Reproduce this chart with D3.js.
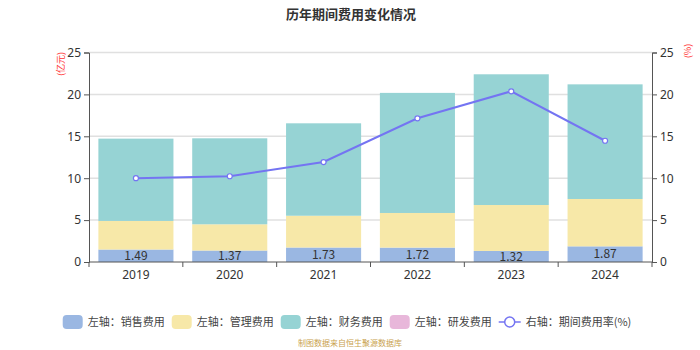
<!DOCTYPE html>
<html>
<head>
<meta charset="utf-8">
<script src="https://cdn.jsdelivr.net/npm/d3@7/dist/d3.min.js"></script>
<style>
  body { margin: 0; background: #fff; }
  svg { font-family: "Noto Sans CJK SC", "Noto Sans", sans-serif; }
</style>
</head>
<body>
<script>
var years = ['2019', '2020', '2021', '2022', '2023', '2024'];
var sales = [1.49, 1.37, 1.73, 1.72, 1.32, 1.87];
var admin = [3.41, 3.13, 3.79, 4.13, 5.48, 5.65];
var finance = [9.82, 10.26, 11.03, 14.33, 15.60, 13.68];
var research = [0, 0, 0, 0, 0, 0];
var rate = [10.0, 10.23, 11.93, 17.15, 20.37, 14.47];
var yTicks = [0, 5, 10, 15, 20, 25];
var legendNames = ['左轴：销售费用', '左轴：管理费用', '左轴：财务费用', '左轴：研发费用', '右轴：期间费用率(%)'];

var W = 700, H = 350,
    plotLeft = 89, plotRight = 652, plotTop = 52.5, plotBottom = 262,
    colors = ['#9ab7e2', '#f7e8a8', '#96d3d4', '#e8b7da'],
    lineColor = '#7474f2';

var svg = d3.select('body').append('svg')
    .attr('width', W)
    .attr('height', H);

var xScale = d3.scaleBand().domain(years).range([plotLeft, plotRight]).paddingInner(0.2).paddingOuter(0.1),
    xTickScale = d3.scaleBand().domain(years).range([plotLeft, plotRight]),
    yScale = d3.scaleLinear().domain([0, 25]).range([plotBottom, plotTop]),
    rScale = d3.scaleLinear().domain([0, 25]).range([plotBottom, plotTop]);

// title
svg.append('text')
    .attr('x', 351).attr('y', 14)
    .attr('text-anchor', 'middle').attr('dy', '.35em')
    .style('font-size', '13px').style('font-weight', 'bold').style('fill', '#333')
    .text('历年期间费用变化情况');

// grid
svg.append('g').selectAll('line')
    .data(yTicks.slice(1))
    .enter().append('line')
    .attr('x1', plotLeft).attr('x2', plotRight)
    .attr('y1', function(d) { return yScale(d); })
    .attr('y2', function(d) { return yScale(d); })
    .attr('stroke', '#e0e0e0').attr('stroke-width', 1.5);

// stacked bars
var stackData = years.map(function(y, i) {
    return {year: y, sales: sales[i], admin: admin[i], finance: finance[i], research: research[i]};
});
var stack = d3.stack().keys(['sales', 'admin', 'finance', 'research'])(stackData);

svg.append('g').selectAll('g')
    .data(stack)
    .enter().append('g')
    .attr('fill', function(d, i) { return colors[i]; })
    .selectAll('rect')
    .data(function(d) { return d; })
    .enter().append('rect')
    .attr('x', function(d) { return xScale(d.data.year); })
    .attr('width', xScale.bandwidth())
    .attr('y', function(d) { return yScale(d[1]); })
    .attr('height', function(d) { return Math.max(0, yScale(d[0]) - yScale(d[1])); });

// sales labels
svg.append('g').selectAll('text')
    .data(stackData)
    .enter().append('text')
    .attr('x', function(d) { return xScale(d.year) + xScale.bandwidth() / 2; })
    .attr('y', function(d) { return yScale(d.sales / 2); })
    .attr('dy', '.35em').attr('text-anchor', 'middle')
    .style('font-size', '12px').style('fill', '#333')
    .text(function(d) { return d.sales.toFixed(2); });

// axes
var yAxis = d3.axisLeft(yScale).tickValues(yTicks).tickSize(5).tickPadding(3),
    rAxis = d3.axisRight(rScale).tickValues(yTicks).tickSize(5).tickPadding(3),
    xAxis = d3.axisBottom(xTickScale).tickSize(0).tickPadding(8);

function styleAxis(g) {
    g.select('.domain').attr('stroke', '#555');
    g.selectAll('.tick line').attr('stroke', '#555');
    g.selectAll('text').style('font-size', '12px').style('fill', '#333')
        .style('font-family', '"Noto Sans", sans-serif');
}

svg.append('g').attr('transform', 'translate(' + plotLeft + ',0)').call(yAxis).call(styleAxis);
svg.append('g').attr('transform', 'translate(' + plotRight + ',0)').call(rAxis).call(styleAxis);
var xg = svg.append('g').attr('transform', 'translate(0,' + plotBottom + ')').call(xAxis).call(styleAxis);
xg.select('.domain').attr('d', 'M' + plotLeft + ',0H' + plotRight);
xg.selectAll('.boundary')
    .data(years.concat(['end']))
    .enter().append('line')
    .attr('x1', function(d, i) { return plotLeft + i * xTickScale.step(); })
    .attr('x2', function(d, i) { return plotLeft + i * xTickScale.step(); })
    .attr('y1', 0).attr('y2', 5)
    .attr('stroke', '#555');

// axis names
svg.append('text')
    .attr('transform', 'translate(61,64) rotate(-90)')
    .attr('text-anchor', 'middle').attr('dy', '.35em')
    .style('font-size', '9px').style('fill', '#f33')
    .text('(亿元)');
svg.append('text')
    .attr('transform', 'translate(688,51) rotate(-90)')
    .attr('text-anchor', 'middle').attr('dy', '.35em')
    .style('font-size', '9px').style('fill', '#f33')
    .text('(%)');

// rate line
var line = d3.line()
    .x(function(d, i) { return xScale(years[i]) + xScale.bandwidth() / 2; })
    .y(function(d) { return rScale(d); });

svg.append('path')
    .datum(rate)
    .attr('d', line)
    .attr('fill', 'none').attr('stroke', lineColor).attr('stroke-width', 2);

svg.append('g').selectAll('circle')
    .data(rate)
    .enter().append('circle')
    .attr('cx', function(d, i) { return xScale(years[i]) + xScale.bandwidth() / 2; })
    .attr('cy', function(d) { return rScale(d); })
    .attr('r', 2.5)
    .attr('fill', '#fff').attr('stroke', lineColor).attr('stroke-width', 1.2);

// legend
var legend = svg.append('g').attr('class', 'legend'),
    lx = 0, ly = 322;
legendNames.forEach(function(name, i) {
    var g = legend.append('g').attr('transform', 'translate(' + lx + ',' + ly + ')');
    if (i < 4) {
        g.append('rect')
            .attr('x', 0).attr('y', -7).attr('width', 20).attr('height', 14)
            .attr('rx', 4).attr('fill', colors[i]);
    } else {
        g.append('line').attr('x1', 0).attr('x2', 22).attr('y1', 0).attr('y2', 0)
            .attr('stroke', lineColor).attr('stroke-width', 1.5);
        g.append('circle').attr('cx', 11).attr('cy', 0).attr('r', 5)
            .attr('fill', '#fff').attr('stroke', lineColor).attr('stroke-width', 1.5);
    }
    var t = g.append('text')
        .attr('x', i < 4 ? 25 : 27).attr('dy', '.35em')
        .style('font-size', '11px').style('fill', '#444')
        .text(name);
    lx += (i < 4 ? 25 : 27) + t.node().getComputedTextLength() + (i < 4 ? 7 : 0);
});
legend.attr('transform', 'translate(' + (347 - lx / 2) + ',0)');

// source
svg.append('text')
    .attr('x', 350).attr('y', 343)
    .attr('text-anchor', 'middle').attr('dy', '.35em')
    .style('font-size', '8px').style('fill', '#c9a24e')
    .text('制图数据来自恒生聚源数据库');
</script>
</body>
</html>
